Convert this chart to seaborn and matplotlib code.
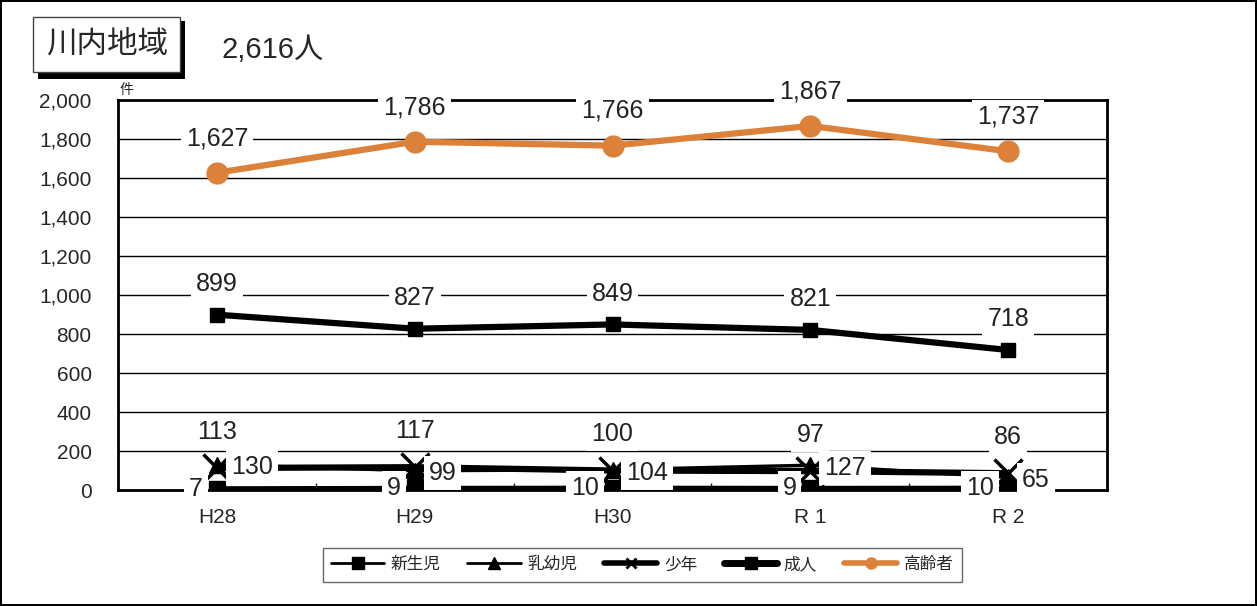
import matplotlib
matplotlib.use('Agg')
import matplotlib.pyplot as plt
from matplotlib.patches import Rectangle
from matplotlib.ticker import FuncFormatter, MultipleLocator, FixedLocator
import seaborn as sns
import pandas as pd

years = ['H28', 'H29', 'H30', 'R 1', 'R 2']
shinseiji = [7, 9, 10, 9, 10]
nyuyoji = [130, 99, 104, 127, 65]
shonen = [113, 117, 100, 97, 86]
seijin = [899, 827, 849, 821, 718]
koreisha = [1627, 1786, 1766, 1867, 1737]
series_names = ['新生児', '乳幼児', '少年', '成人', '高齢者']
area_title = '川内地域'
population = '2,616人'

sns.set_style('white')
plt.rcParams['font.family'] = ['Liberation Sans', 'Noto Sans CJK JP', 'DejaVu Sans']
cjk = ['Noto Sans CJK JP', 'DejaVu Sans']

df = pd.DataFrame({'x': list(range(len(years))) * 5,
                   'value': shinseiji + nyuyoji + shonen + seijin + koreisha,
                   'series': [s for s in series_names for _ in years]})

orange = '#DB8139'
styles = {
    '新生児': dict(color='black', lw=3.5, marker='s', ms=11),
    '乳幼児': dict(color='black', lw=2.5, marker='^', ms=11),
    '少年': dict(color='black', lw=4.5, marker='x', ms=20, mew=2.5),
    '成人': dict(color='black', lw=4.5, marker='s', ms=10),
    '高齢者': dict(color=orange, lw=4.5, marker='o', ms=15),
}
legend_lw = {'新生児': 2, '乳幼児': 2, '少年': 4, '成人': 5, '高齢者': 4}
legend_ms = {'新生児': 8, '乳幼児': 8, '少年': 7, '成人': 8, '高齢者': 8}

fig = plt.figure(figsize=(12.57, 6.06), dpi=100)
fig.patch.set_edgecolor('black')
fig.patch.set_linewidth(1.5)
ax = fig.add_axes([0.0939, 0.1914, 0.7868, 0.6436])

handles = []
for name in series_names:
    st = styles[name]
    sub = df[df['series'] == name]
    sns.lineplot(data=sub, x='x', y='value', ax=ax, color=st['color'], lw=st['lw'],
                 marker=st['marker'], markersize=st['ms'],
                 markeredgewidth=st.get('mew', 1), markeredgecolor=st['color'],
                 legend=False, zorder=4)
    h, = ax.plot([], [], color=st['color'], lw=legend_lw[name], marker=st['marker'],
                 ms=legend_ms[name], mew=2 if name == '少年' else 1)
    handles.append(h)

box = dict(boxstyle='square,pad=0.2', fc='white', ec='none')
lab_kw = dict(fontsize=18, bbox=box, zorder=6, color='#222222', annotation_clip=False)
for i in range(len(years)):
    ax.annotate(f'{koreisha[i]:,}', (i, koreisha[i]), xytext=(0, 25), textcoords='offset points',
                ha='center', va='center', **lab_kw)
    ax.annotate(f'{seijin[i]:,}', (i, seijin[i]), xytext=(0, 22), textcoords='offset points',
                ha='center', va='center', **lab_kw)
    ax.annotate(f'{shonen[i]:,}', (i, shonen[i]), xytext=(0, 26), textcoords='offset points',
                ha='center', va='center', **lab_kw)
    ax.annotate(f'{nyuyoji[i]:,}', (i, nyuyoji[i]), xytext=(10, -2), textcoords='offset points',
                ha='left', va='center', **lab_kw)
    ax.annotate(f'{shinseiji[i]:,}', (i, shinseiji[i]), xytext=(-10, 0), textcoords='offset points',
                ha='right', va='center', **lab_kw)

ax.set_xlim(-0.5, len(years) - 0.5)
ax.set_ylim(0, 2000)
ax.yaxis.set_major_locator(MultipleLocator(200))
ax.yaxis.set_major_formatter(FuncFormatter(lambda v, p: f'{int(v):,}'))
ax.set_xticks(range(len(years)))
ax.set_xticklabels(years)
ax.xaxis.set_minor_locator(FixedLocator([0.5, 1.5, 2.5, 3.5]))
ax.tick_params(axis='x', which='major', length=0, labelsize=15, pad=13)
ax.tick_params(axis='x', which='minor', length=5, direction='in', bottom=True, width=1)
ax.tick_params(axis='y', length=0, labelsize=15, pad=19)
ax.grid(axis='y', color='black', lw=1)
ax.set_axisbelow(True)
ax.set_xlabel('')
ax.set_ylabel('')
for s in ax.spines.values():
    s.set_visible(True)
    s.set_color('black')
    s.set_linewidth(2)

fig.text(0.095, 0.845, '件', fontsize=10, family=cjk)

# title box with shadow
fig.patches.append(Rectangle((0.0305, 0.87), 0.117, 0.095, transform=fig.transFigure,
                             fc='black', ec='none', zorder=1))
fig.patches.append(Rectangle((0.0265, 0.882), 0.117, 0.09, transform=fig.transFigure,
                             fc='white', ec='#444444', lw=1, zorder=2))
fig.text(0.085, 0.927, area_title, fontsize=22, family=cjk, ha='center', va='center', zorder=3)
fig.text(0.176, 0.918, population, fontsize=21, family=['Liberation Sans', 'Noto Sans CJK JP'],
         ha='left', va='center')

leg = fig.legend(handles, series_names, loc='center', bbox_to_anchor=(0.511, 0.068), ncol=5,
                 frameon=True, fancybox=False, edgecolor='#444444', handlelength=3.2,
                 handletextpad=0.4, columnspacing=1.6,
                 prop={'family': cjk, 'size': 12}, borderpad=0.5)
leg.get_frame().set_linewidth(1)

fig.savefig('out.png', dpi=100, edgecolor=fig.get_edgecolor())
